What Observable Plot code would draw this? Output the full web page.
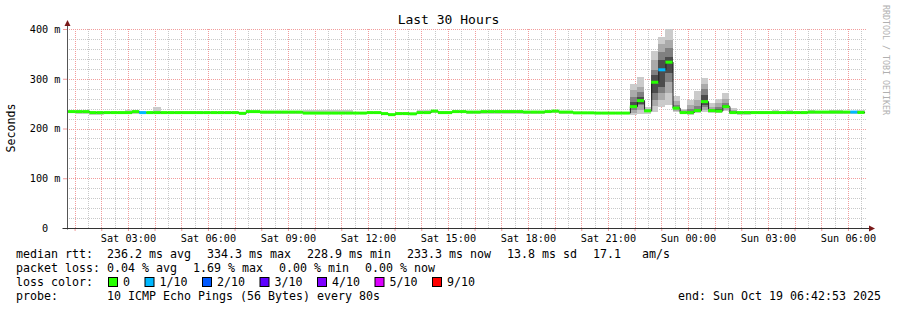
<!DOCTYPE html>
<html><head><meta charset="utf-8">
<script src="https://cdn.jsdelivr.net/npm/d3@7"></script>
<script src="https://cdn.jsdelivr.net/npm/@observablehq/plot@0.6"></script>
<style>body{margin:0;background:#fff}svg{display:block}</style>
</head><body><div id="chart"></div>
<script>
// ---------- data ----------
const titleText = "Last 30 Hours";
const yLabelText = "Seconds";
const rangeStart = Date.UTC(2025, 9, 18, 0, 42, 53);
const rangeEnd   = Date.UTC(2025, 9, 19, 6, 42, 53);
const firstStep  = Date.UTC(2025, 9, 18, 0, 29, 20); // first consolidated 16-minute step
const stepSeconds = 960;

// median RTT per step (ms)
const medianMs = [235,235,235,235, 233,233,233,233,233, 233, 235, 233, 233, 233,
  233,233,233,233,233,233,233,233,233,233,233, 231.5, 235,235, 234,234,234,234,234,234,
  232,232,232,232,232,232,232,232,232, 233,233, 231, 228.9, 231,231, 230.5, 233,233, 236,
  233,233, 235,235, 234,234, 235,235,235,235,235,235, 234,234,234, 235, 236, 234,234,
  232.5,232.5,232.5, 232,232,232,232,232,
  245,257,236.5,294,319,334.3,242,233,233,237,255,237,236,245,233,
  233,233,233,233,233,233,233,233,233,233, 234,234,234,234,234,234,234,233.3];
// packet loss per step, in pings out of 10
const lossTenths = [0,0,0,0,0,0,0,0,0,0,0,1,0,0,0,0,0,0,0,0,0,0,0,0,0,0,0,0,0,0,0,0,0,0,0,0,0,0,0,0,
  0,0,0,0,0,0,0,0,0,0,0,0,0,0,0,0,0,0,0,0,0,0,0,0,0,0,0,0,0,0,0,0,0,0,0,0,0,0,0,0,
  0,0,0,0,1,0,0,0,0,0,0,0,0,0,0,0,0,0,0,0,0,0,0,0,0,0,0,0,0,0,0,1,0];
// smoke: lowest and highest ping per step (ms)
const smokeLoMs = [232,232,230,230, 227,227,229,229,229, 229,230,229,229,230,
  230,229,230,229,230,230,229,230,229,230,230, 228, 231,231, 230,230,230,230,230,230,
  229,229,229,229,229,229,229,229,229, 229,229, 228, 226, 228,228, 228, 230,230, 232,
  230,230, 231,231, 230,230, 229,229,229,229,229,229, 230,230,230, 231, 232, 229,229,
  229,229,229, 229,229,229,229,229,
  227,230,230,233,244,247,233,230,228,231,233,231,231,235,230,
  228,228, 230,230,230,230,230,230,230,230,230,230,230,230,230,230,230,230];
const smokeHiMs = [236,236,236,236, 234,234,234,234,234, 237, 236, 234,234, 244,
  234,234,234,234,234,234,234,234,234,234,234, 233, 236,236, 235,235,235,235,235,235,
  237,237,237,237,237,237,237, 234,234, 234,234, 232, 230, 233,233, 232, 237,237, 237,
  236,236, 236,236, 235,235, 236,236,236,236,236,236, 235,235,235, 236, 237, 235,235,
  234,234,234, 233,233,233,233,233,
  289,303,244,356,383,400,266,240,257,275,302,251,259,271,241,
  235,235,235,235,235, 237, 235, 238, 235,235, 238, 235,235, 237,237, 235,235, 238];
// inner smoke bands for the evening spike (steps starting at spikeFirst)
const spikeFirst = 80;
const midLoMs  = [231,237,233,245,257,271,236,231,230,233,237,233,233,238,231];
const midHiMs  = [277,284,240,338,370,378,255,237,247,257,289,244,251,259,237];
const darkLoMs = [237,247,235,257,272,294,239,232,232,235,243,235,234,241,232];
const darkHiMs = [264,274,238,318,354,361,248,234,240,246,279,240,244,252,235];
const coreLoMs = [241,250,236,271,284,311,241,233,232,236,247,236,235,243,233];
const coreHiMs = [254,264,237,308,338,344,244,233,236,240,267,238,240,248,234];

const yTicks = [0, 100, 200, 300, 400];
const xTickTimes = ["2025-10-18T03:00Z","2025-10-18T06:00Z","2025-10-18T09:00Z","2025-10-18T12:00Z",
  "2025-10-18T15:00Z","2025-10-18T18:00Z","2025-10-18T21:00Z","2025-10-19T00:00Z",
  "2025-10-19T03:00Z","2025-10-19T06:00Z"];
const xTickLabels = ["Sat 03:00","Sat 06:00","Sat 09:00","Sat 12:00","Sat 15:00",
  "Sat 18:00","Sat 21:00","Sun 00:00","Sun 03:00","Sun 06:00"];

const rttStats  = ["236.2 ms avg","334.3 ms max","228.9 ms min","233.3 ms now","13.8 ms sd","17.1   am/s"];
const lossStats = ["0.04 % avg","1.69 % max","0.00 % min","0.00 % now"];
const lossLevels = [0, 1, 2, 3, 4, 5, 9];
const lossLabels = ["0","1/10","2/10","3/10","4/10","5/10","9/10"];
const lossColors = ["#26ff00","#00b8ff","#0059ff","#5e00ff","#7e00ff","#dd00ff","#ff0000"];
const probeText = "10 ICMP Echo Pings (56 Bytes) every 80s";
const endText = "end: Sun Oct 19 06:42:53 2025";
const watermark = "RRDTOOL / TOBI OETIKER";

// ---------- build ----------
const MS = 1000;
const steps = medianMs.map((m, i) => ({
  t1: new Date(firstStep + i * stepSeconds * MS),
  t2: new Date(firstStep + (i + 1) * stepSeconds * MS),
  med: m, lo: smokeLoMs[i], hi: smokeHiMs[i],
  color: lossColors[lossLevels.indexOf(lossTenths[i])]
}));
const spike = midLoMs.map((v, j) => ({
  t1: steps[spikeFirst + j].t1, t2: steps[spikeFirst + j].t2,
  mlo: v, mhi: midHiMs[j], dlo: darkLoMs[j], dhi: darkHiMs[j], clo: coreLoMs[j], chi: coreHiMs[j]
}));
const linePts = steps.map(s => ({t: s.t1, v: s.med}));
linePts.push({t: steps[steps.length - 1].t2, v: steps[steps.length - 1].med});

const x0 = new Date(rangeStart), x1 = new Date(rangeEnd);
const minorX = d3.utcMinute.every(30).range(x0, x1).filter(d => d.getUTCMinutes() === 30);
const majorX = d3.utcHour.range(x0, x1);
const minorY = d3.range(0, 401, 20).filter(v => v % 100 !== 0);
const labelOf = new Map(xTickTimes.map((t, i) => [+new Date(t), xTickLabels[i]]));

const FONT = "DejaVu Sans Mono";
const gridMinor = "#c8c8c8", gridMajor = "#f29c9c";

const plot = Plot.plot({
  width: 897, height: 310,
  marginLeft: 67, marginRight: 30, marginTop: 29, marginBottom: 82,
  style: {fontFamily: FONT, background: "#fff", color: "#000", overflow: "visible"},
  x: {type: "utc", domain: [x0, x1], label: null},
  y: {domain: [0, 400], label: null},
  color: {type: "identity"},
  marks: [
    Plot.ruleY(minorY, {stroke: gridMinor, strokeDasharray: "1,1", shapeRendering: "crispEdges"}),
    Plot.ruleX(minorX, {stroke: gridMinor, strokeDasharray: "1,1", shapeRendering: "crispEdges"}),
    Plot.ruleY(yTicks.slice(1), {stroke: gridMajor, strokeDasharray: "1,1", shapeRendering: "crispEdges"}),
    Plot.ruleX(majorX, {stroke: gridMajor, strokeDasharray: "1,1", shapeRendering: "crispEdges"}),
    Plot.rect(steps, {x1: "t1", x2: "t2", y1: "lo", y2: "hi", fill: "#cbcbcb", shapeRendering: "crispEdges", clip: true}),
    Plot.rect(spike, {x1: "t1", x2: "t2", y1: "mlo", y2: "mhi", fill: "#aaaaaa", shapeRendering: "crispEdges"}),
    Plot.rect(spike, {x1: "t1", x2: "t2", y1: "dlo", y2: "dhi", fill: "#808080", shapeRendering: "crispEdges"}),
    Plot.rect(spike, {x1: "t1", x2: "t2", y1: "clo", y2: "chi", fill: "#4c4c4c", shapeRendering: "crispEdges"}),
    Plot.line(linePts, {x: "t", y: "v", curve: "step-after", stroke: "#202020", strokeWidth: 1, clip: true}),
    Plot.ruleY(steps, {x1: "t1", x2: "t2", y: "med", stroke: "color", strokeWidth: 3, clip: true}),
    Plot.axisY({ticks: yTicks, tickSize: 4, tickPadding: 3, fontSize: 10.2, stroke: gridMajor, fill: "#000",
      tickFormat: d => d === 0 ? "0\u00a0\u00a0" : d + " m", label: null}),
    Plot.axisX({ticks: majorX, tickSize: 3, tickFormat: () => "", stroke: gridMajor, label: null}),
    Plot.axisX({ticks: xTickTimes.map(t => new Date(t)), tickSize: 0, tickPadding: 6, fontSize: 10.2, fill: "#000",
      tickFormat: d => labelOf.get(+d), label: null})
  ]
});
document.getElementById("chart").appendChild(plot);

// ---------- decorations (axes, arrows, texts) ----------
const svg = d3.select(plot);
const sx = plot.scale("x"), sy = plot.scale("y");
const X0 = Math.round(sx.apply(x0)) + 0.5, X1 = sx.apply(x1);
const Y0 = Math.round(sy.apply(0)) + 0.5, Y1 = sy.apply(400);
const g = svg.append("g").attr("text-anchor", "start");
g.append("line").attr("x1", X0).attr("x2", X0).attr("y1", Y0 + 1).attr("y2", Y1 - 5)
  .attr("stroke", "#555").attr("stroke-width", 1);
g.append("line").attr("x1", X0 - 5).attr("x2", X1 + 3).attr("y1", Y0).attr("y2", Y0)
  .attr("stroke", "#333").attr("stroke-width", 1);
g.append("path").attr("d", `M${X0 - 3},${Y1 - 3}L${X0 + 3},${Y1 - 3}L${X0},${Y1 - 9}Z`).attr("fill", "#7a1a1a");
g.append("path").attr("d", `M${X1 + 2},${Y0 - 3}L${X1 + 2},${Y0 + 3}L${X1 + 8},${Y0}Z`).attr("fill", "#7a1a1a");

const txt = (x, y, s, size, opts = {}) => {
  const t = g.append("text").attr("x", x).attr("y", y).text(s)
    .attr("font-family", FONT).attr("font-size", size).attr("fill", opts.fill || "#000")
    .attr("text-anchor", opts.anchor || "start")
    .attr("xml:space", "preserve").style("white-space", "pre");
  if (opts.transform) t.attr("transform", opts.transform);
  return t;
};
txt(448.5, 24, titleText, 13, {anchor: "middle"});
txt(0, 0, yLabelText, 11.6, {anchor: "middle", transform: "translate(15,128) rotate(-90)"});
txt(0, 0, watermark, 8.3, {fill: "#b0b0b0", transform: "translate(883,5) rotate(90)"});

const LF = 11.63, CW = 7.0, L0 = 16, V0 = 107;
const base = [258, 272, 286, 300];
txt(L0, base[0], "median rtt:", LF);
let xx = V0;
rttStats.forEach(s => { txt(xx, base[0], s, LF); xx += s.length * CW + 16; });
txt(L0, base[1], "packet loss:", LF);
xx = V0;
lossStats.forEach(s => { txt(xx, base[1], s, LF); xx += s.length * CW + 16; });
txt(L0, base[2], "loss color:", LF);
xx = 108;
lossLabels.forEach((s, i) => {
  g.append("rect").attr("x", xx + 0.5).attr("y", base[2] - 8.5).attr("width", 9).attr("height", 9)
    .attr("fill", lossColors[i]).attr("stroke", "#000").attr("stroke-width", 1);
  txt(xx + 15, base[2], s, LF);
  xx += 15 + s.length * CW + 14.5;
});
txt(L0, base[3], "probe:", LF);
txt(V0, base[3], probeText, LF);
txt(881, base[3], endText, LF, {anchor: "end"});
</script></body></html>
